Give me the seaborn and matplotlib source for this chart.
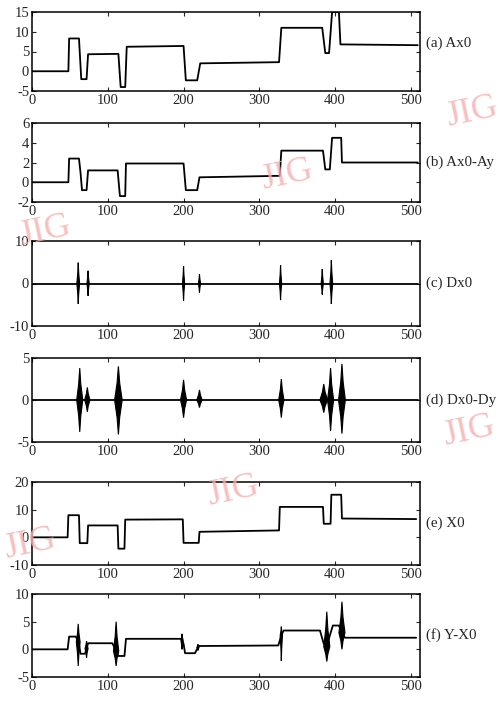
import numpy as np
import matplotlib
matplotlib.use("Agg")
import matplotlib.pyplot as plt
import seaborn as sns

# ---- data (sample index 0..512) ----
# (a) Ax0
a_x = [0, 48, 49, 62, 65, 72, 74, 114, 117, 123, 125, 200, 203, 218, 222, 326, 329, 383, 387, 392, 396, 405, 407, 509]
a_y = [0, 0, 8.3, 8.3, -2.0, -2.0, 4.3, 4.4, -4.0, -4.0, 6.2, 6.4, -2.3, -2.3, 2.0, 2.3, 11.0, 11.0, 4.6, 4.6, 15.0, 15.0, 6.8, 6.6]

# (b) Ax0-Ay
b_x = [0, 48, 49, 62, 64, 66, 72, 74, 113, 116, 123, 124, 200, 203, 218, 221, 327, 329, 384, 387, 393, 396, 408, 409, 509]
b_y = [0, 0, 2.4, 2.4, 1.0, -0.8, -0.8, 1.2, 1.2, -1.4, -1.4, 1.9, 1.9, -0.8, -0.8, 0.5, 0.65, 3.2, 3.2, 1.3, 1.3, 4.5, 4.5, 2.0, 2.0]

# (c) Dx0 : spikes at the step edges
c_center = [61, 74, 200, 221, 328, 383, 395]
c_hi = [4.9, 3.0, 4.1, 2.2, 4.3, 3.4, 5.5]
c_lo = [-4.8, -2.9, -4.0, -2.1, -3.9, -2.6, -4.8]
c_width = [1.8, 1.5, 1.5, 1.5, 1.5, 1.5, 1.8]

# (d) Dx0-Dy : oscillation bursts
d_center = [63, 73, 114, 200, 221, 329, 385, 394, 409]
d_hi = [3.8, 1.5, 4.0, 2.4, 1.2, 2.5, 1.9, 3.8, 4.3]
d_lo = [-3.8, -1.4, -4.1, -2.1, -0.9, -2.1, -1.5, -3.7, -4.0]
d_width = [4.0, 3.5, 5.0, 4.0, 3.5, 3.5, 5.0, 4.0, 4.5]

# (e) X0
e_x = [0, 47, 48, 62, 63, 73, 74, 113, 114, 122, 123, 199, 200, 220, 221, 326, 327, 384, 385, 394, 395, 408, 409, 507]
e_y = [0, 0, 8.0, 8.0, -2.1, -2.1, 4.3, 4.3, -4.1, -4.1, 6.4, 6.5, -2.0, -2.0, 2.0, 2.5, 11.0, 11.0, 4.9, 4.9, 15.4, 15.4, 6.8, 6.6]

# (f) Y-X0 : steps plus bursts
f_x = [0, 47, 49, 58, 62, 64, 70, 74, 106, 110, 114, 122, 124, 197, 200, 202, 215, 220, 325, 329, 332, 380, 385, 389, 393, 397, 405, 409, 413, 507]
f_y = [0, 0, 2.3, 2.3, 1.0, -0.8, -0.8, 1.1, 1.1, 0.0, -1.2, -1.2, 1.9, 1.9, 1.0, -0.7, -0.7, 0.6, 0.7, 2.5, 3.4, 3.4, 1.0, 0.5, 2.5, 4.3, 4.3, 3.0, 2.1, 2.1]
f_center = [61, 72, 111, 198, 219, 329, 389, 409]
f_hi = [4.6, 1.5, 5.0, 2.8, 0.9, 4.1, 6.8, 8.6]
f_lo = [-3.0, -1.5, -3.0, 0.0, -0.2, -2.1, -2.2, 0.0]
f_width = [2.5, 2.0, 3.5, 1.5, 1.5, 1.5, 4.0, 4.0]

labels = ["(a) Ax0", "(b) Ax0-Ay", "(c) Dx0", "(d) Dx0-Dy", "(e) X0", "(f) Y-X0"]
ylims = [(-5, 15), (-2, 6), (-10, 10), (-5, 5), (-10, 20), (-5, 10)]
yticks = [[-5, 0, 5, 10, 15], [-2, 0, 2, 4, 6], [-10, 0, 10], [-5, 0, 5], [-10, 0, 10, 20], [-5, 0, 5, 10]]

sns.set_style("ticks")
plt.rcParams["font.family"] = ["Liberation Serif", "DejaVu Serif"]
plt.rcParams["axes.unicode_minus"] = False
plt.rcParams["xtick.direction"] = "in"
plt.rcParams["ytick.direction"] = "in"

fig = plt.figure(figsize=(4.99, 7.02), dpi=100)

# axes boxes in pixels (top, bottom) from the reference
boxes = [(12, 91), (123, 202), (241, 326), (358, 442), (482, 565), (594, 677)]
left, right = 32, 420
axes = []
for top, bot in boxes:
    ax = fig.add_axes([left / 499, 1 - bot / 702, (right - left) / 499, (bot - top) / 702])
    axes.append(ax)


def draw_bursts(ax, base_x, base_y, centers, hi, lo, width):
    for c, h, l, w in zip(centers, hi, lo, width):
        mid = np.interp(c, base_x, base_y) if base_x is not None else 0.0
        amp_up = (h - mid) * 0.5
        amp_dn = (mid - l) * 0.5
        xs = [c - w, c - 0.35 * w, c, c + 0.35 * w, c + w, c + 0.35 * w, c, c - 0.35 * w]
        ys = [mid, mid + amp_up, h, mid + amp_up, mid, mid - amp_dn, l, mid - amp_dn]
        ax.fill(xs, ys, color="black", lw=0.8, ec="black")


line_kw = dict(color="black", linewidth=1.3, estimator=None, sort=False)

sns.lineplot(x=a_x, y=a_y, ax=axes[0], **line_kw)
sns.lineplot(x=b_x, y=b_y, ax=axes[1], **line_kw)
sns.lineplot(x=[0, 509], y=[0, 0], ax=axes[2], **line_kw)
draw_bursts(axes[2], None, None, c_center, c_hi, c_lo, c_width)
sns.lineplot(x=[0, 509], y=[0, 0], ax=axes[3], **line_kw)
draw_bursts(axes[3], None, None, d_center, d_hi, d_lo, d_width)
sns.lineplot(x=e_x, y=e_y, ax=axes[4], **line_kw)
sns.lineplot(x=f_x, y=f_y, ax=axes[5], **line_kw)
draw_bursts(axes[5], f_x, f_y, f_center, f_hi, f_lo, f_width)

for i, ax in enumerate(axes):
    ax.set_xlim(0, 512)
    ax.set_ylim(*ylims[i])
    ax.set_yticks(yticks[i])
    ax.set_xticks([0, 100, 200, 300, 400, 500])
    ax.tick_params(top=True, right=True, length=3, width=0.8, labelsize=10.5, pad=2)
    for s in ax.spines.values():
        s.set_linewidth(1.1)
        s.set_color("black")
    ax.set_xlabel("")
    ax.set_ylabel("")
    ypos = 0.61 if i == 0 else 0.5
    ax.text(1.015, ypos, labels[i], transform=ax.transAxes, ha="left", va="center", fontsize=10.8)

# faint "JIG" marks from the scanned page
wm = [(0.575, 0.75), (0.467, 0.30), (0.09, 0.67), (0.94, 0.385), (0.06, 0.225), (0.945, 0.84)]
for x, y in wm:
    fig.text(x, y, "JIG", color="#f6b0b0", fontsize=26, rotation=12, ha="center", va="center", alpha=0.8, zorder=0)

fig.savefig("out.png", dpi=100)
